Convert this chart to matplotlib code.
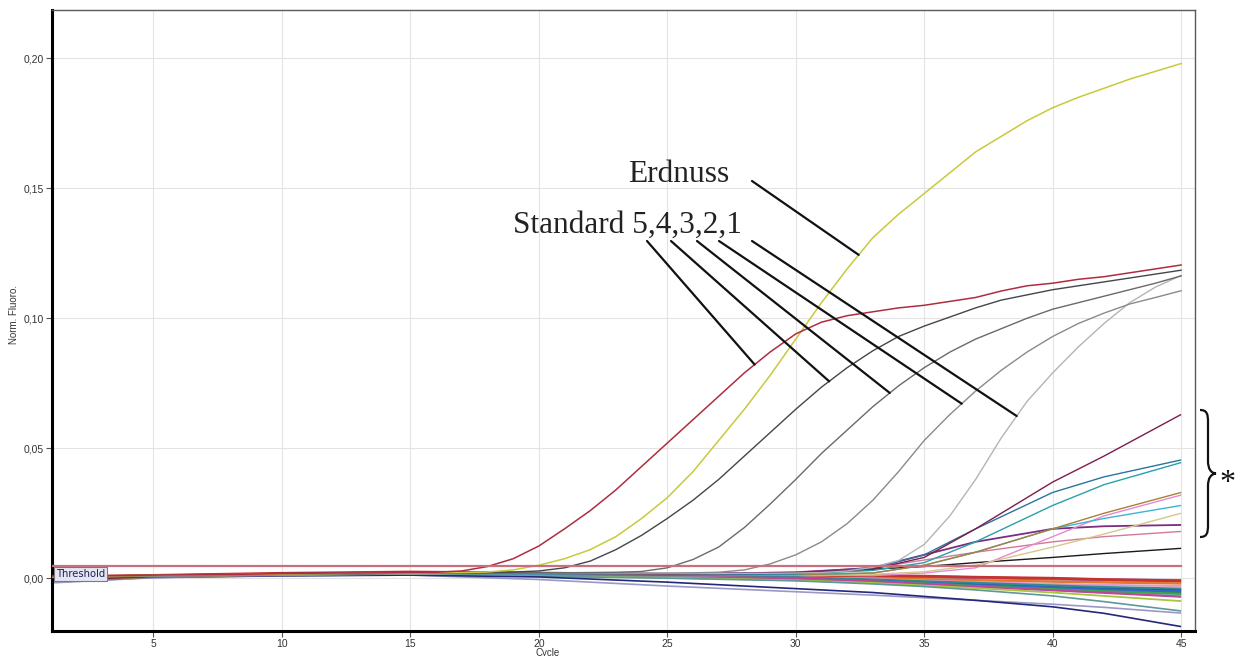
import numpy as np
import matplotlib
matplotlib.use("Agg")
import matplotlib.pyplot as plt
import matplotlib.transforms as mtransforms
from matplotlib.path import Path
from matplotlib.patches import PathPatch
from matplotlib.ticker import FuncFormatter

W, H = 1236, 656

# ---------------------------------------------------------------- data
cycles = list(range(1, 46))

standard_5 = [0.0008, 0.0009, 0.0010, 0.0011, 0.0012, 0.0013, 0.0014, 0.0015, 0.0016, 0.0018,
              0.0019, 0.0020, 0.0020, 0.0021, 0.0022, 0.0023, 0.0028, 0.0045, 0.0075, 0.0124,
              0.0190, 0.0260, 0.0340, 0.0430, 0.0520, 0.0610, 0.0700, 0.0790, 0.0870, 0.0940,
              0.0985, 0.1010, 0.1025, 0.1040, 0.1050, 0.1065, 0.1080, 0.1105, 0.1125, 0.1135,
              0.1150, 0.1160, 0.1175, 0.1190, 0.1205]

erdnuss = [0.0006, 0.0008, 0.0009, 0.0010, 0.0011, 0.0012, 0.0013, 0.0014, 0.0015, 0.0016,
           0.0017, 0.0018, 0.0019, 0.0020, 0.0020, 0.0021, 0.0022, 0.0024, 0.0032, 0.0050,
           0.0075, 0.0110, 0.0160, 0.0230, 0.0310, 0.0410, 0.0530, 0.0650, 0.0780, 0.0920,
           0.1060, 0.1190, 0.1310, 0.1400, 0.1480, 0.1560, 0.1640, 0.1700, 0.1760, 0.1810,
           0.1850, 0.1885, 0.1920, 0.1950, 0.1980]

standard_4 = [0.0007, 0.0008, 0.0009, 0.0010, 0.0011, 0.0012, 0.0013, 0.0014, 0.0015, 0.0016,
              0.0017, 0.0018, 0.0018, 0.0019, 0.0020, 0.0020, 0.0021, 0.0022, 0.0024, 0.0028,
              0.0040, 0.0066, 0.0110, 0.0165, 0.0230, 0.0300, 0.0380, 0.0470, 0.0560, 0.0650,
              0.0735, 0.0810, 0.0875, 0.0930, 0.0970, 0.1005, 0.1040, 0.1070, 0.1090, 0.1110,
              0.1125, 0.1140, 0.1155, 0.1170, 0.1185]

standard_3 = [0.0005, 0.0007, 0.0008, 0.0009, 0.0010, 0.0011, 0.0012, 0.0013, 0.0014, 0.0015,
              0.0016, 0.0017, 0.0017, 0.0018, 0.0019, 0.0019, 0.0020, 0.0020, 0.0020, 0.0021,
              0.0021, 0.0022, 0.0023, 0.0026, 0.0040, 0.0072, 0.0120, 0.0195, 0.0285, 0.0380,
              0.0480, 0.0570, 0.0660, 0.0740, 0.0810, 0.0870, 0.0920, 0.0960, 0.1000, 0.1035,
              0.1060, 0.1085, 0.1110, 0.1135, 0.1163]

standard_2 = [0.0004, 0.0006, 0.0007, 0.0008, 0.0009, 0.0010, 0.0011, 0.0012, 0.0013, 0.0014,
              0.0015, 0.0016, 0.0016, 0.0017, 0.0018, 0.0018, 0.0019, 0.0019, 0.0019, 0.0019,
              0.0019, 0.0019, 0.0020, 0.0020, 0.0020, 0.0021, 0.0023, 0.0032, 0.0055, 0.0090,
              0.0140, 0.0210, 0.0300, 0.0410, 0.0530, 0.0630, 0.0720, 0.0800, 0.0870, 0.0930,
              0.0980, 0.1020, 0.1055, 0.1080, 0.1106]

standard_1 = [0.0003, 0.0005, 0.0006, 0.0007, 0.0008, 0.0009, 0.0010, 0.0011, 0.0012, 0.0013,
              0.0014, 0.0015, 0.0015, 0.0016, 0.0017, 0.0017, 0.0018, 0.0018, 0.0018, 0.0018,
              0.0018, 0.0018, 0.0018, 0.0018, 0.0018, 0.0018, 0.0018, 0.0019, 0.0019, 0.0020,
              0.0022, 0.0028, 0.0042, 0.0068, 0.0130, 0.0240, 0.0380, 0.0540, 0.0680, 0.0790,
              0.0890, 0.0980, 0.1060, 0.1120, 0.1165]

threshold = 0.0047

# samples below / around the threshold, read at these cycles
sample_cycles = [1, 5, 10, 15, 20, 25, 30, 33, 35, 37, 40, 42, 45]

maroon = [-0.0008, 0.0006, 0.0016, 0.0021, 0.0019, 0.0016, 0.0021, 0.0035, 0.0080, 0.0190, 0.0370, 0.0470, 0.0630]
teal_a = [-0.0004, 0.0008, 0.0014, 0.0019, 0.0017, 0.0012, 0.0018, 0.0040, 0.0090, 0.0190, 0.0330, 0.0390, 0.0455]
teal_b = [0.0002, 0.0010, 0.0017, 0.0018, 0.0015, 0.0011, 0.0016, 0.0030, 0.0060, 0.0140, 0.0280, 0.0360, 0.0445]
olive = [-0.0012, 0.0004, 0.0013, 0.0017, 0.0014, 0.0010, 0.0014, 0.0020, 0.0050, 0.0100, 0.0190, 0.0250, 0.0330]
cyan = [-0.0006, 0.0007, 0.0012, 0.0016, 0.0013, 0.0009, 0.0013, 0.0020, 0.0050, 0.0100, 0.0190, 0.0230, 0.0280]
khaki = [-0.0002, 0.0009, 0.0015, 0.0019, 0.0015, 0.0010, 0.0012, 0.0015, 0.0025, 0.0050, 0.0120, 0.0170, 0.0250]
pink = [-0.0010, 0.0005, 0.0012, 0.0016, 0.0014, 0.0011, 0.0013, 0.0010, 0.0020, 0.0040, 0.0160, 0.0240, 0.0320]
purple = [-0.0003, 0.0008, 0.0018, 0.0023, 0.0020, 0.0016, 0.0022, 0.0040, 0.0090, 0.0140, 0.0190, 0.0200, 0.0205]
rose = [0.0000, 0.0009, 0.0016, 0.0020, 0.0018, 0.0015, 0.0024, 0.0040, 0.0070, 0.0100, 0.0140, 0.0160, 0.0180]
black = [-0.0007, 0.0006, 0.0013, 0.0018, 0.0016, 0.0013, 0.0022, 0.0035, 0.0045, 0.0060, 0.0080, 0.0095, 0.0115]

violet = [-0.0005, 0.0008, 0.0016, 0.0021, 0.0018, 0.0013, 0.0012, 0.0008, 0.0005, 0.0002, -0.0003, -0.0006, -0.0009]
navy_a = [-0.0010, 0.0006, 0.0013, 0.0017, 0.0012, 0.0006, 0.0002, -0.0008, -0.0015, -0.0022, -0.0032, -0.0038, -0.0045]
teal_c = [-0.0003, 0.0008, 0.0014, 0.0018, 0.0013, 0.0008, 0.0003, -0.0005, -0.0012, -0.0018, -0.0028, -0.0034, -0.0040]
blue = [-0.0014, 0.0004, 0.0011, 0.0015, 0.0010, 0.0004, -0.0002, -0.0010, -0.0018, -0.0026, -0.0036, -0.0043, -0.0050]
green = [-0.0008, 0.0006, 0.0012, 0.0016, 0.0011, 0.0005, -0.0003, -0.0012, -0.0020, -0.0030, -0.0042, -0.0050, -0.0060]
magenta = [-0.0002, 0.0009, 0.0015, 0.0019, 0.0014, 0.0007, 0.0000, -0.0012, -0.0022, -0.0032, -0.0046, -0.0056, -0.0071]
yellowgreen = [-0.0011, 0.0005, 0.0011, 0.0015, 0.0009, 0.0002, -0.0008, -0.0018, -0.0028, -0.0038, -0.0055, -0.0068, -0.0088]
grayteal = [-0.0015, 0.0003, 0.0010, 0.0013, 0.0008, 0.0000, -0.0010, -0.0022, -0.0032, -0.0045, -0.0068, -0.0090, -0.0126]
lavender = [-0.0018, 0.0002, 0.0009, 0.0012, -0.0005, -0.0030, -0.0052, -0.0065, -0.0075, -0.0085, -0.0100, -0.0112, -0.0134]
navy_b = [-0.0012, 0.0005, 0.0010, 0.0012, 0.0005, -0.0015, -0.0040, -0.0055, -0.0070, -0.0085, -0.0110, -0.0135, -0.0186]
lightblue = [-0.0006, 0.0006, 0.0012, 0.0016, 0.0010, 0.0003, -0.0006, -0.0016, -0.0024, -0.0034, -0.0046, -0.0054, -0.0065]
darkgreen = [-0.0009, 0.0005, 0.0012, 0.0016, 0.0011, 0.0004, -0.0004, -0.0013, -0.0020, -0.0028, -0.0040, -0.0047, -0.0055]
orange = [0.0003, 0.0010, 0.0017, 0.0022, 0.0018, 0.0012, 0.0008, 0.0002, -0.0004, -0.0008, -0.0013, -0.0016, -0.0020]
pink_b = [-0.0004, 0.0007, 0.0014, 0.0018, 0.0014, 0.0008, 0.0004, -0.0003, -0.0010, -0.0015, -0.0022, -0.0026, -0.0030]
red_b = [0.0005, 0.0011, 0.0019, 0.0024, 0.0020, 0.0015, 0.0012, 0.0010, 0.0008, 0.0004, 0.0000, -0.0005, -0.0010]

x_ticks = [5, 10, 15, 20, 25, 30, 35, 40, 45]
y_ticks = [0.00, 0.05, 0.10, 0.15, 0.20]

# ---------------------------------------------------------------- figure
fig = plt.figure(figsize=(W / 100, H / 100), dpi=100)
fig.patch.set_facecolor("white")
ax = fig.add_axes([52 / W, 1 - 631 / H, (1195 - 52) / W, (631 - 10) / H])

# pixel (from top-left) -> figure transform for the overlay marks
pix = mtransforms.Affine2D().scale(1 / W, -1 / H).translate(0, 1) + fig.transFigure

samples = [
    (violet, "#9a6cae", 2.2), (orange, "#e07a2a", 1.8), (red_b, "#c8322e", 2.0),
    (pink_b, "#e09ac8", 1.6), (darkgreen, "#2f7a44", 1.6), (lightblue, "#8ec8e6", 1.6),
    (navy_a, "#283090", 1.6), (teal_c, "#2f8c8c", 1.6), (blue, "#3566c8", 1.6),
    (green, "#3aa650", 1.6), (magenta, "#c0449c", 1.6), (yellowgreen, "#a6c63e", 1.3),
    (grayteal, "#5f9898", 1.2), (lavender, "#9a98c8", 1.2), (navy_b, "#24287a", 1.2),
    (black, "#1a1a1a", 1.0), (rose, "#d4789a", 1.0), (purple, "#7e2c82", 1.3),
    (pink, "#e48ad0", 1.0), (khaki, "#d6c88a", 1.0), (cyan, "#3cb4d2", 1.0),
    (olive, "#a8803a", 1.0), (teal_b, "#2aa0aa", 1.0), (teal_a, "#2a74a0", 1.0),
    (maroon, "#7a1e4c", 1.0),
]
for vals, col, lw in samples:
    ax.plot(sample_cycles, vals, color=col, lw=lw, solid_capstyle="butt", zorder=2)

ax.plot(cycles, standard_1, color="#b4b4b4", lw=1.0, zorder=3)
ax.plot(cycles, standard_2, color="#8a8a8a", lw=1.0, zorder=3)
ax.plot(cycles, standard_3, color="#6a6a6a", lw=1.0, zorder=3)
ax.plot(cycles, standard_4, color="#45454d", lw=1.0, zorder=3)
ax.plot(cycles, erdnuss, color="#c9c93e", lw=1.1, zorder=4)
ax.plot(cycles, standard_5, color="#b02c40", lw=1.1, zorder=4)

ax.plot([cycles[0], cycles[-1]], [threshold, threshold], color="#c87080", lw=1.6, zorder=5)
ax.text(1.2, 0.0018, "Threshold", fontsize=7.2, color="#1e1e5a", va="center", ha="left",
        family="DejaVu Sans", zorder=6,
        bbox=dict(boxstyle="square,pad=0.2", facecolor="#e6e6f2", edgecolor="#7a7a7a", lw=0.8))

# axes styling
ax.set_xlim(1.05, 45.54)
ax.set_ylim(-0.0203, 0.2186)
ax.set_xticks(x_ticks)
ax.set_yticks(y_ticks)
ax.yaxis.set_major_formatter(FuncFormatter(lambda v, p: f"{v:.2f}".replace(".", ",")))
ax.grid(True, color="#e3e3e3", lw=0.8)
ax.set_axisbelow(True)
ax.tick_params(direction="out", length=4, width=0.8, color="#555555",
               labelsize=7.5, labelcolor="#333333", pad=2)
for lab in ax.get_xticklabels() + ax.get_yticklabels():
    lab.set_family("Liberation Sans")
for side in ("left", "bottom"):
    ax.spines[side].set_linewidth(2.2)
    ax.spines[side].set_color("black")
for side in ("top", "right"):
    ax.spines[side].set_linewidth(1.0)
    ax.spines[side].set_color("#5a5a5a")

fig.text(548 / W, 1 - 648 / H, "Cycle", fontsize=7, family="Liberation Sans",
         ha="center", va="top", color="#333333")
fig.text(14 / W, 1 - 315 / H, "Norm. Fluoro.", fontsize=7, family="Liberation Sans",
         rotation=90, ha="center", va="center", color="#333333")

# annotation labels
fig.text(628 / W, 1 - 182 / H, "Erdnuss", fontsize=22.7, family="Liberation Serif",
         ha="left", va="baseline", color="#222222")
fig.text(513 / W, 1 - 233 / H, "Standard 5,4,3,2,1", fontsize=22.5, family="Liberation Serif",
         ha="left", va="baseline", color="#222222")

pointers = [
    ((752, 181), 32.45, erdnuss),
    ((647, 241), 28.4, standard_5),
    ((671, 241), 31.3, standard_4),
    ((697, 241), 33.66, standard_3),
    ((719, 241), 36.46, standard_2),
    ((752, 241), 38.6, standard_1),
]
for start, cyc, series in pointers:
    tip = (cyc, float(np.interp(cyc, cycles, series)))
    ax.annotate("", xy=tip, xycoords="data", xytext=start, textcoords=pix,
                arrowprops=dict(arrowstyle="-", lw=1.6, color="#111111", shrinkA=0, shrinkB=0),
                annotation_clip=False, zorder=7)

# curly brace marking the late-rising samples
verts = [(1200, 410), (1207, 410), (1208, 414), (1208, 422),
         (1208, 461),
         (1208, 469), (1211, 473), (1216, 473.5),
         (1211, 474), (1208, 478), (1208, 486),
         (1208, 525),
         (1208, 533), (1207, 537), (1200, 537)]
codes = [Path.MOVETO, Path.CURVE4, Path.CURVE4, Path.CURVE4,
         Path.LINETO,
         Path.CURVE4, Path.CURVE4, Path.CURVE4,
         Path.CURVE4, Path.CURVE4, Path.CURVE4,
         Path.LINETO,
         Path.CURVE4, Path.CURVE4, Path.CURVE4]
fig.patches.append(PathPatch(Path(verts, codes), transform=pix, facecolor="none",
                             edgecolor="#111111", lw=1.6))
fig.text(1219 / W, 1 - 491 / H, "*", fontsize=23, family="Liberation Serif",
         ha="left", va="baseline", color="#111111")

fig.savefig("out.png", dpi=100, facecolor="white")
